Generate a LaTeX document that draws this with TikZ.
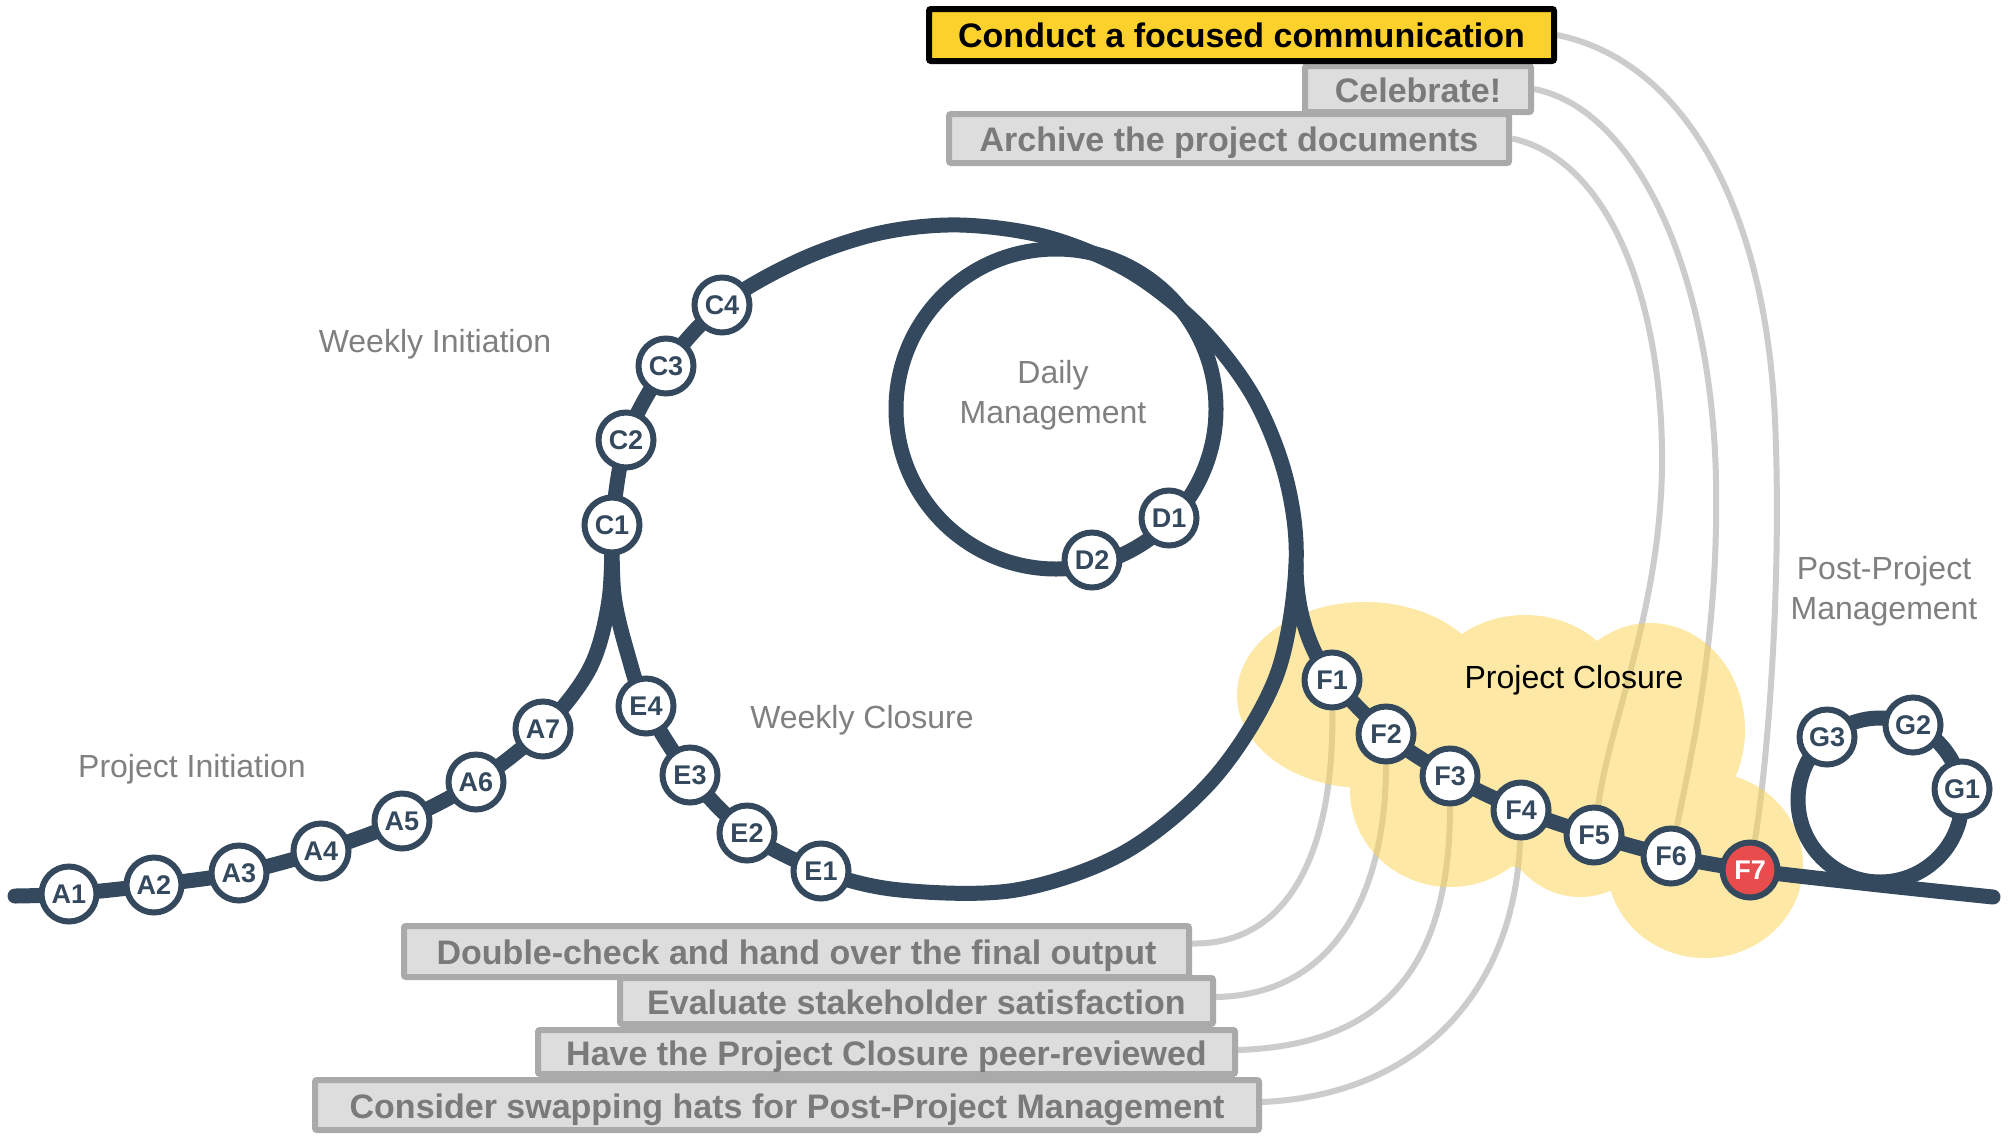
\documentclass[tikz,border=0pt]{standalone}
\usepackage{fontspec}
\setmainfont{Liberation Sans}
\definecolor{navy}{HTML}{34495E}
\definecolor{lblgray}{HTML}{808080}
\definecolor{boxfill}{HTML}{DDDDDD}
\definecolor{boxline}{HTML}{AAAAAA}
\definecolor{boxtext}{HTML}{7A7A7A}
\definecolor{gold}{HTML}{FDD12B}
\definecolor{connc}{HTML}{CCCCCC}
\definecolor{cloudc}{HTML}{FCD44C}
\definecolor{redst}{HTML}{E84C4C}
\pgfdeclarelayer{bgw}
\pgfdeclarelayer{connl}
\pgfdeclarelayer{cloudl}
\pgfdeclarelayer{trackl}
\pgfsetlayers{bgw,connl,cloudl,trackl,main}
\tikzset{
 stn/.style={circle, draw=navy, line width=6pt, fill=white, minimum size=55pt, inner sep=0pt, text=navy, font=\fontsize{27}{27}\selectfont\bfseries},
 stnred/.style={stn, fill=redst, text=white},
 trk/.style={draw=navy, line width=15pt, line cap=round, line join=round},
 connline/.style={draw=connc, line width=6pt},
 lbl/.style={text=lblgray, font=\fontsize{32}{40}\selectfont, align=center, inner sep=0pt},
 gbox/.style={draw=boxline, fill=boxfill, line width=6pt, rounded corners=2pt, inner sep=0pt, text height=33pt, text depth=7pt, text=boxtext, font=\fontsize{34}{34}\selectfont\bfseries},
 ybox/.style={gbox, draw=black, fill=gold, text=black, text height=31pt},
}
\begin{document}
\begin{tikzpicture}[x=1pt,y=-1pt]
\begin{pgfonlayer}{bgw}
\fill[white] (0,0) rectangle (2012,1138);
\end{pgfonlayer}
\useasboundingbox (0,0) rectangle (2012,1138);

% ---------- stations ----------
\node[stn] (A1) at (69,894) {A1};
\node[stn] (A2) at (154,885) {A2};
\node[stn] (A3) at (239,873) {A3};
\node[stn] (A4) at (321,851) {A4};
\node[stn] (A5) at (402,821) {A5};
\node[stn] (A6) at (476,782) {A6};
\node[stn] (A7) at (543,729) {A7};
\node[stn] (C1) at (612,525) {C1};
\node[stn] (C2) at (626,440) {C2};
\node[stn] (C3) at (666,366) {C3};
\node[stn] (C4) at (722,305) {C4};
\node[stn] (D1) at (1169,518) {D1};
\node[stn] (D2) at (1092,560) {D2};
\node[stn] (E1) at (821,871) {E1};
\node[stn] (E2) at (747,833) {E2};
\node[stn] (E3) at (690,775) {E3};
\node[stn] (E4) at (646,706) {E4};
\node[stn] (F1) at (1332,680) {F1};
\node[stn] (F2) at (1386,734) {F2};
\node[stn] (F3) at (1450,776) {F3};
\node[stn] (F4) at (1521,810) {F4};
\node[stn] (F5) at (1594,835) {F5};
\node[stn] (F6) at (1671,856) {F6};
\node[stnred] (F7) at (1750,870) {F7};
\node[stn] (G1) at (1962,789) {G1};
\node[stn] (G2) at (1913,725) {G2};
\node[stn] (G3) at (1827,737) {G3};

\coordinate (start) at (15,896);
\coordinate (finish) at (1993,897);
\coordinate (fsplit) at (1296,565);
\coordinate (dctr) at (1056,409);
\coordinate (gctr) at (1880,800);

% ---------- labels ----------
\node[lbl] (wi) at (435,344) {Weekly Initiation};
\node[lbl] (pi) at (192,769) {Project Initiation};
\node[lbl] (wc) at (862,720) {Weekly Closure};
\node[lbl] (dm) at (1053,395) {Daily\\Management};
\node[lbl] (ppm) at (1884,591) {Post-Project\\Management};
\node[lbl, text=black] (pc) at (1574,680) {Project Closure};

% ---------- boxes ----------
\node[gbox, minimum width=560pt, minimum height=49pt] (AR) at (1229,138.5) {Archive the project documents};
\node[gbox, minimum width=226pt, minimum height=46pt] (CE) at (1418,89) {Celebrate!};
\node[ybox, minimum width=625pt, minimum height=52pt] (CF) at (1241.5,35) {Conduct a focused communication};
\node[gbox, minimum width=785pt, minimum height=51pt] (DC) at (796.5,951.5) {Double-check and hand over the final output};
\node[gbox, minimum width=593pt, minimum height=46pt] (EV) at (916.5,1001) {Evaluate stakeholder satisfaction};
\node[gbox, minimum width=697pt, minimum height=44pt] (HV) at (886.5,1052) {Have the Project Closure peer-reviewed};
\node[gbox, minimum width=944pt, minimum height=50pt] (CS) at (787,1105) {Consider swapping hats for Post-Project Management};

% ---------- grey connectors ----------
\begin{pgfonlayer}{connl}
\draw[connline] (CF.east) .. controls (1680,60) and (1765,200) .. (1775,420) .. controls (1782,580) and (1768,760) .. (F7);
\draw[connline] (CE.east) .. controls (1640,110) and (1712,280) .. (1716,480) .. controls (1719,640) and (1690,760) .. (F6);
\draw[connline] (AR.east) .. controls (1610,160) and (1660,300) .. (1662,450) .. controls (1664,600) and (1610,720) .. (F5);
\draw[connline] (F1) .. controls (1334,850) and (1290,945) .. ([yshift=8pt]DC.east);
\draw[connline] (F2) .. controls (1386,900) and (1330,995) .. ([yshift=4pt]EV.east);
\draw[connline] (F3) .. controls (1450,960) and (1390,1045) .. ([yshift=2pt]HV.east);
\draw[connline] (F4) .. controls (1515,990) and (1420,1095) .. ([yshift=3pt]CS.east);
\end{pgfonlayer}

% ---------- cloud ----------
\begin{pgfonlayer}{cloudl}
\fill[cloudc, fill opacity=0.5]
  (1365,695) ellipse [x radius=128pt, y radius=93pt]
  (1525,700) ellipse [x radius=100pt, y radius=85pt]
  (1650,730) ellipse [x radius=95pt, y radius=107pt]
  (1705,865) ellipse [x radius=98pt, y radius=93pt]
  (1450,790) ellipse [x radius=100pt, y radius=97pt]
  (1580,800) ellipse [x radius=85pt, y radius=97pt]
  (1550,760) ellipse [x radius=150pt, y radius=110pt];
\end{pgfonlayer}

% ---------- track ----------
\begin{pgfonlayer}{trackl}
\draw[trk] plot[smooth, tension=0.55] coordinates {(start) (A1.center) (A2.center) (A3.center) (A4.center) (A5.center) (A6.center) (A7.center) (590,668) (609,600) (C1.center)};
\draw[trk] plot[smooth, tension=0.55] coordinates {(C1.center) (C2.center) (C3.center) (C4.center) (800,260) (880,233) (960,225) (1047,237) (1129,271) (1199,326) (1253,396) (1286,478) (fsplit) (1276,677) (1215,777) (1125,852) (1016,890) (900,890) (E1.center) (E2.center) (E3.center) (E4.center) (628,655) (614,595) (C1.center)};
\draw[trk] (dctr) circle [radius=160pt];
\draw[trk] (fsplit) .. controls (1296,615) and (1312,655) .. (F1.center);
\draw[trk] plot[smooth, tension=0.55] coordinates {(F1.center) (F2.center) (F3.center) (F4.center) (F5.center) (F6.center) (F7.center) (1870,884) (finish)};
\draw[trk] (gctr) circle [radius=82pt];
\end{pgfonlayer}
\end{tikzpicture}
\end{document}
